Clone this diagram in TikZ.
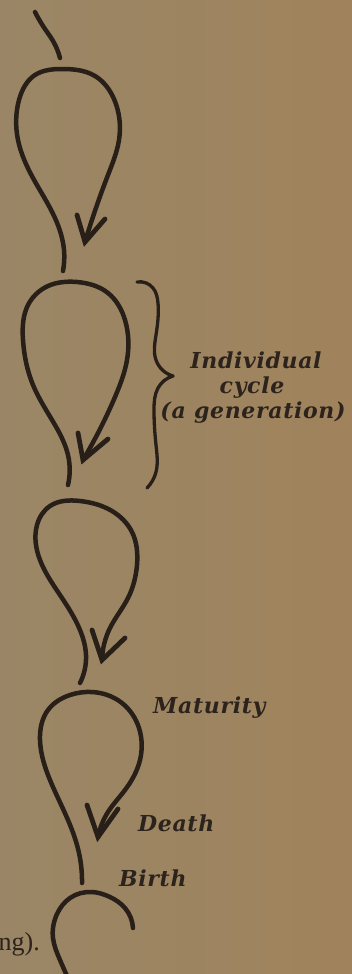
\documentclass[tikz,border=0pt]{standalone}
\usepackage{fontspec}
\usetikzlibrary{hobby}
\newfontfamily\labfont[LetterSpace=3]{DejaVu Serif}
\newfontfamily\bookfont{Liberation Serif}
\definecolor{bgL}{RGB}{154,134,102}
\definecolor{bgR}{RGB}{160,131,92}
\definecolor{ink}{RGB}{40,31,24}
\definecolor{txt}{RGB}{44,35,28}
\tikzset{
  ink/.style={line width=4.5pt, line cap=round, line join=round, draw=ink},
  barb/.style={line width=4.8pt, line cap=round, draw=ink},
  bracestroke/.style={line width=3.3pt, line cap=round, line join=round, draw=ink},
  lab/.style={inner sep=0pt, text=txt, font=\labfont\bfseries\itshape\fontsize{22}{25}\selectfont},
}
\begin{document}
\begin{tikzpicture}[x=1pt,y=-1pt]
\shade[left color=bgL, right color=bgR] (0,0) rectangle (352,974);
\useasboundingbox (0,0) rectangle (352,974);
% initial stroke
\draw[ink, use Hobby shortcut] (35,12) .. (45,29) .. (53,41) .. (60,58);
% loop 1
\draw[ink, use Hobby shortcut] (63,271) .. (64,250) .. (55,218) .. (33,178) .. (18,140) .. (19,100) .. (35,75) .. (62,69) .. (95,76) .. (114,99) .. (119,140) .. (108,175) .. (85,242);
\coordinate (t1) at (85,242);
\draw[barb] (77,215) -- (t1) -- (105,219);
% loop 2
\draw[ink, use Hobby shortcut] (68,485) .. (68,455) .. (55,425) .. (33,385) .. (23,340) .. (28,305) .. (48,286) .. (77,282) .. (108,293) .. (125,320) .. (127,360) .. (115,397) .. (83,460);
\coordinate (t2) at (83,460);
\draw[barb] (78,433) -- (t2) -- (108,439);
% loop 3
\draw[ink, use Hobby shortcut] (80,683) .. (86,655) .. (80,630) .. (60,595) .. (40,560) .. (37,525) .. (50,506) .. (80,501) .. (112,511) .. (132,532) .. (137,565) .. (128,598) .. (110,628) .. (102,660);
\coordinate (t3) at (102,660);
\draw[barb] (92,630) -- (t3) -- (125,638);
% loop 4
\draw[ink, use Hobby shortcut] (82,883) .. (79,853) .. (68,820) .. (50,780) .. (40,740) .. (48,710) .. (70,695) .. (92,692) .. (122,703) .. (139,728) .. (140,760) .. (125,790) .. (108,812) .. (98,837);
\coordinate (t4) at (98,837);
\draw[barb] (87,805) -- (t4) -- (118,809);
% loop 5 (partial)
\draw[ink, use Hobby shortcut] (133,928) .. (125,908) .. (110,897) .. (92,892) .. (70,898) .. (57,914) .. (53,938) .. (60,960) .. (67,976);
% brace
\draw[bracestroke, use Hobby shortcut] (137,282) .. (153,288) .. (158,303) .. (156,335) .. (156,360) .. (173,376);
\draw[bracestroke, use Hobby shortcut] (173,376) .. (158,388) .. (154,410) .. (156,445) .. (156,472) .. (147,488);
% labels
\node[lab, anchor=base] (ind) at (256,368) {Individual};
\node[lab, anchor=base] (cyc) at (252,393) {cycle};
\node[lab, anchor=base] (gen) at (253,418) {(a generation)};
\node[lab, anchor=base west] (mat) at (153,713) {Maturity};
\node[lab, anchor=base west] (dea) at (138,831) {Death};
\node[lab, anchor=base west] (bir) at (119,886) {Birth};
\node[inner sep=0pt, anchor=base east, text=txt, font=\bookfont\fontsize{26}{28}\selectfont] (ng) at (40,950) {ng).};
\end{tikzpicture}
\end{document}
